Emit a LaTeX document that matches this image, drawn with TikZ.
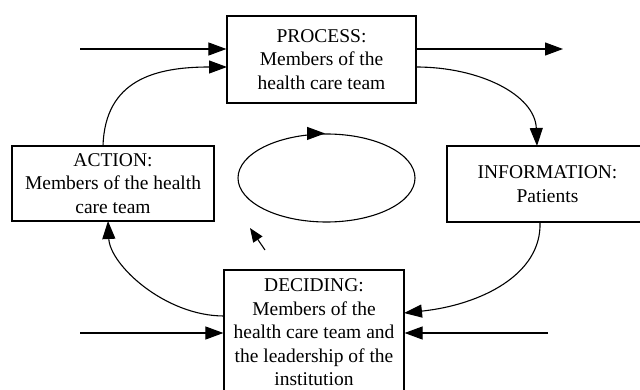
\documentclass[tikz,border=0pt]{standalone}
\usepackage{fontspec}
\setmainfont{Liberation Serif}
\usetikzlibrary{arrows.meta,shapes.geometric}
\begin{document}
\begin{tikzpicture}[x=1pt,y=-1pt,
  box/.style={draw, line width=1.2pt, inner sep=0pt, align=center,
    font=\fontsize{19.5}{23.5}\selectfont},
  conn/.style={line width=1.1pt, -{Triangle[length=18pt,width=13pt]}},
  smallconn/.style={line width=1.1pt, -{Triangle[length=14pt,width=11pt]}}]
\useasboundingbox (0,0) rectangle (640,390);
\node[box, minimum width=189pt, minimum height=87pt] (P) at (321.5,59.5)
  {PROCESS:\\Members of the\\health care team};
\node[box, minimum width=202pt, minimum height=75pt] (A) at (113,183.5)
  {ACTION:\\Members of the health\\care team};
\node[box, minimum width=201pt, minimum height=76pt] (I) at (547.5,184)
  {INFORMATION:\\Patients};
\node[box, minimum width=180pt, minimum height=125pt] (D) at (314,332.5)
  {DECIDING:\\Members of the\\health care team and\\the leadership of the\\institution};
\node[draw, line width=1.1pt, ellipse, minimum width=177pt, minimum height=88pt, inner sep=0pt] (E) at (326.5,178) {};
% straight inputs/outputs
\coordinate (pin) at (80,49);
\coordinate (pout) at (563,49);
\coordinate (din) at (80,333);
\coordinate (dinr) at (548,333);
\draw[conn] (pin) -- (pin -| P.west);
\draw[conn] (pin -| P.east) -- (pout);
\draw[conn] (din) -- (din -| D.west);
\draw[conn] (dinr) -- (dinr -| D.east);
% curved cycle
\draw[conn] (103,146) .. controls (105,80) and (155,67) .. (227,67);
\draw[conn] (416,67) .. controls (480,67) and (535,95) .. (537,146);
\draw[conn] (540,222) .. controls (542,275) and (480,305) .. (404,313);
\draw[conn] (224,316) .. controls (165,316) and (110,265) .. (108,221);
% ellipse arrow
\draw[conn] ([xshift=-3pt]E.north) -- ([xshift=-1.5pt]E.north);
% small arrow
\coordinate (st) at (265,250);
\coordinate (sh) at (250,228);
\draw[smallconn] (st) -- (sh);
\end{tikzpicture}
\end{document}
